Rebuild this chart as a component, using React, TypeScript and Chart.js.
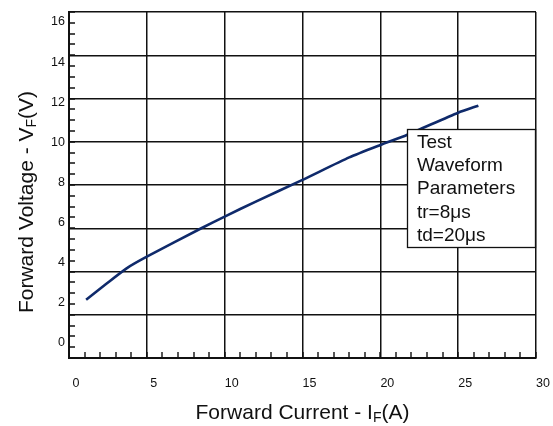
import React, { useEffect, useRef } from "react";
import { Chart, registerables } from "chart.js";

Chart.register(...registerables);

// ---- data ----
const currentA = [1.1, 2.4, 3.7, 5, 8.5, 10, 12, 15, 18, 20, 21.7, 25, 26.3];
const voltageV = [2.15, 2.95, 3.72, 4.3, 5.72, 6.3, 7.05, 8.13, 9.25, 9.87, 10.37, 11.48, 11.83];

const xTickValues = [0, 5, 10, 15, 20, 25, 30];
const yTickValues = [0, 2, 4, 6, 8, 10, 12, 14, 16];
const gridYValues = [0, 2, 4, 6, 8, 10, 12, 14, 16];
const xMinorStep = 1;
const gridYMinorStep = 0.5;

const noteLines = ["Test", "Waveform", "Parameters", "tr=8\u03bcs", "td=20\u03bcs"];
const xTitleParts = ["Forward Current - I", "F", "(A)"];
const yTitleParts = ["Forward Voltage - V", "F", "(V)"];

const FONT = "'Liberation Sans', Arial, Helvetica, sans-serif";
const INK = "#111111";
const CURVE = "#0f2a6b";

function drawRich(ctx: CanvasRenderingContext2D, parts: string[], cx: number, baseline: number) {
  const mainFont = `21px ${FONT}`;
  const subFont = `14px ${FONT}`;
  ctx.font = mainFont;
  const w1 = ctx.measureText(parts[0]).width;
  const w3 = ctx.measureText(parts[2]).width;
  ctx.font = subFont;
  const w2 = ctx.measureText(parts[1]).width;
  let x = cx - (w1 + w2 + w3) / 2;
  ctx.textAlign = "left";
  ctx.textBaseline = "alphabetic";
  ctx.fillStyle = INK;
  ctx.font = mainFont;
  ctx.fillText(parts[0], x, baseline);
  x += w1;
  ctx.font = subFont;
  ctx.fillText(parts[1], x, baseline + 3);
  x += w2;
  ctx.font = mainFont;
  ctx.fillText(parts[2], x, baseline);
}

const minorTicksPlugin = {
  id: "minorTicks",
  beforeDatasetsDraw(chart: any) {
    const { ctx, chartArea, scales } = chart;
    const xs = scales.x;
    const yg = scales.yGrid;
    ctx.save();
    ctx.strokeStyle = INK;
    ctx.lineWidth = 1.4;
    ctx.beginPath();
    for (let v = xs.min; v <= xs.max + 1e-9; v += xMinorStep) {
      const px = Math.round(xs.getPixelForValue(v));
      ctx.moveTo(px, chartArea.bottom);
      ctx.lineTo(px, chartArea.bottom - 6);
    }
    for (let v = yg.min; v <= yg.max + 1e-9; v += gridYMinorStep) {
      const py = Math.round(yg.getPixelForValue(v));
      ctx.moveTo(chartArea.left, py);
      ctx.lineTo(chartArea.left + 6, py);
    }
    ctx.stroke();
    ctx.restore();
  },
};

const notePlugin = {
  id: "noteBox",
  afterDatasetsDraw(chart: any) {
    const { ctx, chartArea } = chart;
    const right = chartArea.right;
    const left = right - 129;
    const top = chartArea.top + 117;
    const lineH = 23.3;
    const height = 118;
    ctx.save();
    ctx.fillStyle = "#ffffff";
    ctx.fillRect(left, top, right - left, height);
    ctx.strokeStyle = INK;
    ctx.lineWidth = 1.3;
    ctx.strokeRect(left + 0.5, top + 0.5, right - left - 1, height);
    ctx.fillStyle = INK;
    ctx.font = `19px ${FONT}`;
    ctx.textAlign = "left";
    ctx.textBaseline = "middle";
    noteLines.forEach((t, i) => {
      ctx.fillText(t, left + 10, top + 13.5 + i * lineH);
    });
    ctx.restore();
  },
};

const titlesPlugin = {
  id: "axisTitles",
  afterDraw(chart: any) {
    const { ctx, chartArea } = chart;
    ctx.save();
    drawRich(ctx, xTitleParts, (chartArea.left + chartArea.right) / 2, chartArea.bottom + 61);
    ctx.translate(33, (chartArea.top + chartArea.bottom) / 2 + 17);
    ctx.rotate(-Math.PI / 2);
    drawRich(ctx, yTitleParts, 0, 0);
    ctx.restore();
  },
};

export default function App() {
  const ref = useRef<HTMLCanvasElement | null>(null);

  useEffect(() => {
    document.body.style.margin = "0";
    const canvas = ref.current;
    if (!canvas) return;
    const chart = new Chart(canvas, {
      type: "line",
      data: {
        datasets: [
          {
            data: currentA.map((x, i) => ({ x, y: voltageV[i] })),
            borderColor: CURVE,
            borderWidth: 2.6,
            pointRadius: 0,
            tension: 0.2,
            fill: false,
            xAxisID: "x",
            yAxisID: "y",
          },
        ],
      },
      options: {
        responsive: false,
        animation: false,
        devicePixelRatio: 1,
        layout: { padding: { top: 12, right: 17, left: 0, bottom: 0 } },
        plugins: {
          legend: { display: false },
          tooltip: { enabled: false },
          title: { display: false },
        },
        scales: {
          x: {
            type: "linear",
            min: 0,
            max: 30,
            afterBuildTicks: (s: any) => {
              s.ticks = xTickValues.map((v) => ({ value: v }));
            },
            afterFit: (s: any) => {
              s.height = 68;
              s.paddingLeft = 0;
              s.paddingRight = 0;
            },
            grid: { color: INK, lineWidth: 1.5, drawTicks: false },
            border: { color: INK, width: 2 },
            ticks: {
              padding: 18,
              labelOffset: 7,
              color: INK,
              font: { family: FONT, size: 12.5 },
              callback: (v: any) => String(v),
            },
          },
          y: {
            type: "linear",
            position: "left",
            min: -0.75,
            max: 16.5,
            afterBuildTicks: (s: any) => {
              s.ticks = yTickValues.map((v) => ({ value: v }));
            },
            afterFit: (s: any) => {
              s.width = 69;
              s.paddingTop = 0;
              s.paddingBottom = 0;
            },
            grid: { display: false, drawTicks: false },
            border: { display: true, color: INK, width: 2 },
            ticks: {
              padding: 4,
              color: INK,
              font: { family: FONT, size: 12.5 },
              callback: (v: any) => String(v),
            },
          },
          yGrid: {
            type: "linear",
            position: "left",
            min: 0,
            max: 16,
            afterBuildTicks: (s: any) => {
              s.ticks = gridYValues.map((v) => ({ value: v }));
            },
            afterFit: (s: any) => {
              s.width = 0;
              s.paddingTop = 0;
              s.paddingBottom = 0;
            },
            grid: { color: INK, lineWidth: 1.5, drawTicks: false },
            border: { display: false },
            ticks: { display: false },
          },
        },
      } as any,
      plugins: [minorTicksPlugin, notePlugin, titlesPlugin],
    });
    return () => chart.destroy();
  }, []);

  return (
    <canvas
      ref={ref}
      width={553}
      height={426}
      style={{ display: "block", width: 553, height: 426 }}
    />
  );
}
